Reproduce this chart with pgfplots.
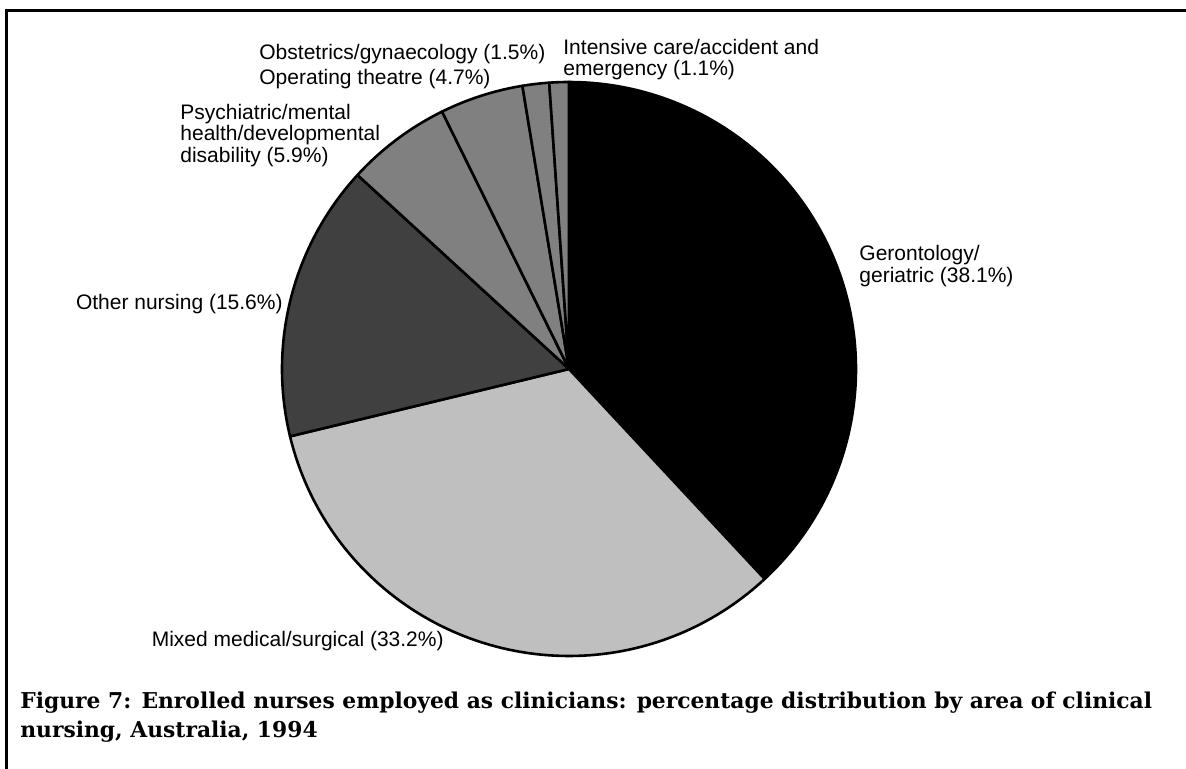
\documentclass[border=0pt]{standalone}
\usepackage{pgfplots}
\usepackage{pgfplotstable}
\usepackage{fontspec}
\pgfplotsset{compat=1.18}
\setmainfont{Liberation Sans}
\newfontfamily\capfont{DejaVu Serif}

% share of enrolled nurses (%), clockwise from 12 o'clock; shade = % black
\pgfplotstableread[col sep=comma]{
area,value,shade
Gerontology,38.1,100
Mixed,33.2,25
Other,15.6,75
Psychiatric,5.9,50
Operating,4.7,50
Obstetrics,1.5,50
Intensive,1.1,50
}\piedata

\pgfplotstablegetrowsof{\piedata}
\pgfmathtruncatemacro\lastrow{\pgfplotsretval-1}
\def\total{0}
\pgfplotsforeachungrouped \i in {0,...,\lastrow}{%
  \pgfplotstablegetelem{\i}{value}\of\piedata
  \pgfmathsetmacro\total{\total+\pgfplotsretval}%
}

\begin{document}
\begin{tikzpicture}
\useasboundingbox (0,0) rectangle (593pt,384.5pt);
\begin{axis}[
    scale only axis,
    width=593pt, height=384.5pt,
    xmin=0, xmax=1186, ymin=0, ymax=769,
    y dir=reverse,
    hide axis,
    clip=false,
]
% slices
\def\cum{0}
\pgfplotsforeachungrouped \i in {0,...,\lastrow}{%
  \pgfplotstablegetelem{\i}{value}\of\piedata
  \let\v\pgfplotsretval
  \pgfplotstablegetelem{\i}{shade}\of\piedata
  \let\s\pgfplotsretval
  \pgfmathsetmacro\aStart{90-\cum/\total*360}%
  \pgfmathsetmacro\cum{\cum+\v}%
  \pgfmathsetmacro\aEnd{90-\cum/\total*360}%
  \edef\temp{\noexpand\addplot[fill=black!\s, draw=black, line width=1.3pt,
      line join=round, domain=\aEnd:\aStart, samples=90]
      ({569+287*cos(x)},{369-287*sin(x)}) -- (axis cs:569,369) -- cycle;}%
  \temp
}

% frame
\draw[line width=1.5pt] (axis cs:6,769) -- (axis cs:6,11) -- (axis cs:1186,11);

% slice labels
\tikzset{lbl/.style={inner sep=0pt, font=\fontsize{10.5}{12}\selectfont}}
\node[lbl, anchor=base west] at (axis cs:859,261) {Gerontology/};
\node[lbl, anchor=base west] at (axis cs:859,283) {geriatric (38.1\%)};
\node[lbl, anchor=base east] at (axis cs:444,646) {Mixed medical/surgical (33.2\%)};
\node[lbl, anchor=base east] at (axis cs:283,310) {Other nursing (15.6\%)};
\node[lbl, anchor=base west] at (axis cs:180,120) {Psychiatric/mental};
\node[lbl, anchor=base west] at (axis cs:180,141) {health/developmental};
\node[lbl, anchor=base west] at (axis cs:180,163) {disability (5.9\%)};
\node[lbl, anchor=base west] at (axis cs:259,85) {Operating theatre (4.7\%)};
\node[lbl, anchor=base west] at (axis cs:259,60) {Obstetrics/gynaecology (1.5\%)};
\node[lbl, anchor=base west] at (axis cs:563,55) {Intensive care/accident and};
\node[lbl, anchor=base west] at (axis cs:563,76) {emergency (1.1\%)};

% caption
\tikzset{captext/.style={inner sep=0pt, anchor=base west, font=\capfont\bfseries\fontsize{10.9}{14}\selectfont}}
\node[captext] at (axis cs:20,708) {Figure 7: Enrolled nurses employed as clinicians: percentage distribution by area of clinical};
\node[captext] at (axis cs:20,737) {nursing, Australia, 1994};
\end{axis}
\end{tikzpicture}
\end{document}
